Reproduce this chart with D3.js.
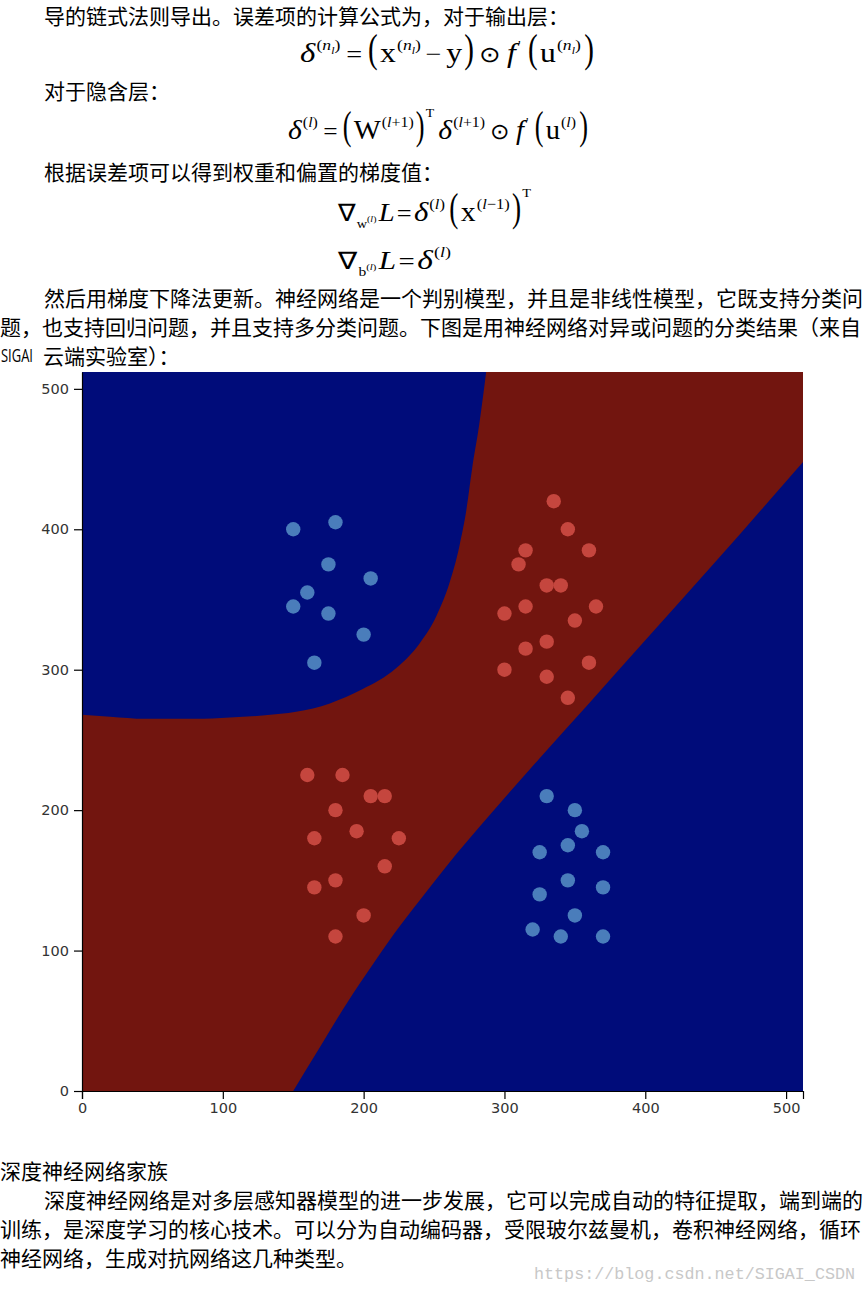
<!DOCTYPE html>
<html><head><meta charset="utf-8">
<script src="https://cdn.jsdelivr.net/npm/d3@7"></script>
<style>
html,body{margin:0;padding:0;background:#fff;}
svg{display:block;}
</style></head>
<body>
<svg id="page" width="864" height="1294"></svg>
<script>
// ---------- data ----------
const blueTopLeft = [[150,400],[180,405],[175,375],[205,365],[160,355],[150,345],[175,340],[200,325],[165,305]];
const redTopRight = [[335,420],[345,400],[315,385],[360,385],[310,375],[330,360],[340,360],[315,345],[365,345],[300,340],[350,335],[330,320],[315,315],[360,305],[300,300],[330,295],[345,280]];
const redBottomLeft = [[160,225],[185,225],[205,210],[215,210],[180,200],[195,185],[165,180],[225,180],[215,160],[180,150],[165,145],[200,125],[180,110]];
const blueBottomRight = [[330,210],[350,200],[355,185],[345,175],[325,170],[370,170],[345,150],[370,145],[325,140],[350,125],[320,115],[340,110],[370,110]];
// decision boundaries (data units)
const boundaryUpper = [[0,268],[20,266.5],[45,265],[80,265],[105,266],[130,267.5],[152,270],[176,276],[199,286],[223,301],[240,319],[252,339],[261,362],[268,388],[273,414],[277,443],[282,474],[287,512]];
const boundaryLower = [[150,0],[170,33],[189,64],[205,88],[221,111],[240,136],[258,159],[290,197],[325,237],[360,276],[400,321],[450,377],[512,448]];
const xTicks = [0,100,200,300,400,500];
const yTicks = [0,100,200,300,400,500];

const textLines = [
  {t:"导的链式法则导出。误差项的计算公式为，对于输出层：", x:44, y:15},
  {t:"对于隐含层：", x:44, y:90},
  {t:"根据误差项可以得到权重和偏置的梯度值：", x:44, y:171},
  {t:"然后用梯度下降法更新。神经网络是一个判别模型，并且是非线性模型，它既支持分类问", x:44, y:297},
  {t:"题，也支持回归问题，并且支持多分类问题。下图是用神经网络对异或问题的分类结果（来自", x:0, y:326},
  {t:"云端实验室）：", x:43, y:355},
  {t:"深度神经网络家族", x:0, y:1170},
  {t:"深度神经网络是对多层感知器模型的进一步发展，它可以完成自动的特征提取，端到端的", x:44, y:1199},
  {t:"训练，是深度学习的核心技术。可以分为自动编码器，受限玻尔兹曼机，卷积神经网络，循环", x:0, y:1228},
  {t:"神经网络，生成对抗网络这几种类型。", x:0, y:1257}
];

const svg = d3.select("#page");
svg.append("rect").attr("width",864).attr("height",1294).attr("fill","#fff");

// ---------- body text ----------
const tg = svg.append("g").attr("font-family","'Noto Sans CJK SC', sans-serif").attr("font-size",21).attr("fill","#000");
textLines.forEach(d=>{
  tg.append("text").attr("x",d.x).attr("y",d.y).attr("dominant-baseline","central").text(d.t);
});
// Latin word before "云端实验室", geometrically narrowed to the reference width
const sig = svg.append("text").attr("font-family","'Open Sans', sans-serif").attr("font-size",19).attr("fill","#000").text("SIGAI");
const sigW = sig.node().getComputedTextLength();
sig.attr("transform",`translate(1,362) scale(${32/sigW},1)`);

svg.append("text").attr("x",534).attr("y",1274).attr("dominant-baseline","central")
  .attr("font-family","'Liberation Mono', monospace").attr("font-size",17).attr("fill","#c8c8c8")
  .attr("textLength",321).attr("lengthAdjust","spacingAndGlyphs").text("https://blog.csdn.net/SIGAI_CSDN");

// ---------- formulas ----------
const BIG = 40, PSX = 0.62;
const supNl = (dy)=>[{t:"(",s:15,dy:dy,gap:1},{t:"n",s:15,i:1,dy:dy},{t:"l",s:10,i:1,dy:dy+4},{t:")",s:15,dy:dy}];
const supL = (dy)=>[{t:"(",s:15,dy:dy,gap:1},{t:"l",s:15,i:1,dy:dy},{t:")",s:15,dy:dy}];
const supLp1 = (dy)=>[{t:"(",s:15,dy:dy,gap:1},{t:"l",s:15,i:1,dy:dy},{t:"+1",s:15,dy:dy},{t:")",s:15,dy:dy}];
const supLm1 = (dy)=>[{t:"(",s:15,dy:dy,gap:1},{t:"l",s:15,i:1,dy:dy},{t:"−1",s:15,dy:dy},{t:")",s:15,dy:dy}];
const bigL = (gap)=>({t:"(",s:BIG,sx:PSX,gap:gap||0});
const bigR = (gap)=>({t:")",s:BIG,sx:PSX,gap:gap||0});

const F1 = [].concat(
  [{t:"δ",s:28,i:1}], supNl(-12),
  [{t:"=",s:24,gap:5}, bigL(5), {t:"x",s:27,gap:2}], supNl(-12),
  [{t:"−",s:24,gap:4},{t:"y",s:27,gap:4}, bigR(2), {t:"⊙",s:22,gap:4},{t:"f",s:27,i:1,gap:6},{t:"'",s:13,dy:-13,gap:2},
   bigL(6), {t:"u",s:27,gap:2}], supNl(-12), [bigR(3)]
);
const F2 = [].concat(
  [{t:"δ",s:28,i:1}], supL(-12),
  [{t:"=",s:24,gap:5}, bigL(5), {t:"W",s:27,gap:2}], supLp1(-12),
  [bigR(2),{t:"T",s:13,dy:-22,gap:1},{t:"δ",s:28,i:1,gap:4}], supLp1(-12),
  [{t:"⊙",s:22,gap:5},{t:"f",s:27,i:1,gap:6},{t:"'",s:13,dy:-13,gap:2}, bigL(6), {t:"u",s:27,gap:2}], supL(-12), [bigR(3)]
);
const F3 = [].concat(
  [{t:"∇",s:24},{t:"w",s:13,dy:7,gap:1},{t:"(",s:9,dy:1},{t:"l",s:9,i:1,dy:1},{t:")",s:9,dy:1},
   {t:"L",s:26,i:1,gap:2},{t:"=",s:24,gap:2},{t:"δ",s:28,i:1,gap:2}], supL(-12),
  [bigL(4),{t:"x",s:27,gap:2}], supLm1(-12), [bigR(2),{t:"T",s:13,dy:-24,gap:1}]
);
const F4 = [].concat(
  [{t:"∇",s:24},{t:"b",s:13,dy:7,gap:1},{t:"(",s:9,dy:1},{t:"l",s:9,i:1,dy:1},{t:")",s:9,dy:1},
   {t:"L",s:26,i:1,gap:2},{t:"=",s:24,gap:2},{t:"δ",s:28,i:1,gap:2}], supL(-12)
);

function formula(tokens, x0, x1, base){
  const g = svg.append("g").attr("font-family","'Liberation Serif', 'Times New Roman', serif").attr("fill","#000");
  let x = 0;
  tokens.forEach(tk=>{
    x += tk.gap||0;
    const k = tk.sx || 1;
    const t = g.append("text").attr("transform",`translate(${x},${tk.dy||0}) scale(${k},1)`)
      .attr("font-size",tk.s).attr("font-style",tk.i?"italic":"normal").text(tk.t);
    x += t.node().getComputedTextLength()*k;
  });
  const sx = (x1-x0)/x;
  g.attr("transform",`translate(${x0},${base}) scale(${sx},1)`);
}
formula(F1, 300, 594, 62);
formula(F2, 288, 588, 139);
formula(F3, 338, 531, 221);
formula(F4, 338, 451, 269);

// ---------- chart ----------
const xs = d3.scaleLinear().domain([0,512]).range([82,803]);
const ys = d3.scaleLinear().domain([0,512]).range([1091,372]);

svg.append("clipPath").attr("id","plotclip").append("rect")
  .attr("x",xs(0)).attr("y",ys(512)).attr("width",xs(512)-xs(0)).attr("height",ys(0)-ys(512));
const plot = svg.append("g").attr("clip-path","url(#plotclip)");
const RED_BG = "#72150f", BLUE_BG = "#000c7a";
plot.append("rect").attr("x",xs(0)).attr("y",ys(512)).attr("width",xs(512)-xs(0)).attr("height",ys(0)-ys(512)).attr("fill",RED_BG);

const line = d3.line().x(d=>xs(d[0])).y(d=>ys(d[1])).curve(d3.curveMonotoneX);
plot.append("path").attr("fill",BLUE_BG)
  .attr("d", line(boundaryUpper) + `L${xs(0)},${ys(512)}Z`);
plot.append("path").attr("fill",BLUE_BG)
  .attr("d", line(boundaryLower) + `L${xs(512)},${ys(0)}Z`);

const R = 7.2;
function pts(data, color){
  plot.append("g").selectAll("circle").data(data).join("circle")
    .attr("cx",d=>xs(d[0])).attr("cy",d=>ys(d[1])).attr("r",R).attr("fill",color);
}
pts(blueTopLeft, "#4a7dbb");
pts(blueBottomRight, "#4a7dbb");
pts(redTopRight, "#c5463e");
pts(redBottomLeft, "#c5463e");

const axFont = "'DejaVu Sans', Verdana, sans-serif";
const gx = svg.append("g").attr("transform",`translate(0,${ys(0)})`)
  .call(d3.axisBottom(xs).tickValues(xTicks).tickSize(8).tickSizeOuter(8).tickPadding(4));
const gy = svg.append("g").attr("transform",`translate(${xs(0)},0)`)
  .call(d3.axisLeft(ys).tickValues(yTicks).tickSize(8).tickSizeOuter(0).tickPadding(5));
[gx,gy].forEach(g=>{
  g.attr("font-size",null).attr("font-family",null);
  g.selectAll("text").style("font-family",axFont).style("font-size","14.5px").attr("fill","#333");
  g.selectAll("line,path").attr("stroke","#000").attr("stroke-width",1.2);
});
</script>
</body></html>
